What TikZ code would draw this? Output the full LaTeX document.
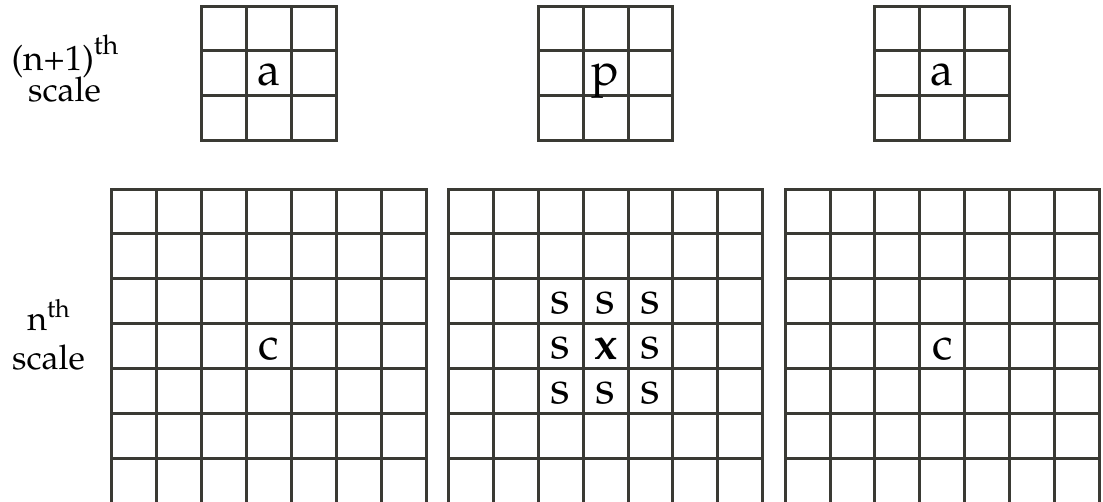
\documentclass[tikz,border=0pt]{standalone}
\usepackage[T1]{fontenc}
\usepackage{mathpazo}
\usepackage{tikz}
\usetikzlibrary{positioning}
\definecolor{gridgray}{RGB}{58,58,52}
\newcommand{\thsup}[2]{\raisebox{#1}{\fontsize{#2}{#2}\selectfont th}}
\newcommand{\cs}{44.9}

\begin{document}
\begin{tikzpicture}[x=1pt, y=-1pt,
    every node/.style={inner sep=0pt},
    gridline/.style={draw=gridgray, line width=3pt, line cap=rect},
    cellmark/.style={anchor=base, font=\fontsize{46}{50}\selectfont},
    scalelabel/.style={anchor=base, font=\fontsize{34}{40}\selectfont}]
  \useasboundingbox (0,0) rectangle (1103,501);
  \clip (0,0) rectangle (1103,501);
  % (n+1)th scale
  \foreach \gx in {111.7, 448.4, 785.1} {
    \foreach \i in {0,...,3} {
      \draw[gridline] (\gx+2*\cs+\i*\cs, 6) -- (\gx+2*\cs+\i*\cs, 6+3*\cs);
      \draw[gridline] (\gx+2*\cs, 6+\i*\cs) -- (\gx+5*\cs, 6+\i*\cs);
    }
  }
  % nth scale
  \foreach \gx in {111.7, 448.4, 785.1} {
    \foreach \i in {0,...,7} {
      \draw[gridline] (\gx+\i*\cs, 189) -- (\gx+\i*\cs, 189+7*\cs);
      \draw[gridline] (\gx, 189+\i*\cs) -- (\gx+7*\cs, 189+\i*\cs);
    }
  }
  % labels
  \node[scalelabel, font=\fontsize{35}{40}\selectfont] (coarse) at (65,70) {(n+1)\thsup{16pt}{27}};
  \node[scalelabel] (coarsescale) at (64.5,101) {scale};
  \node[scalelabel] (fine) at (48.5,330) {n\thsup{13pt}{25}};
  \node[scalelabel] (finescale) at (48.5,369) {scale};
  % cell letters
  \node[cellmark] (aleft) at (111.7+3.5*\cs, 85) {a};
  \node[cellmark] (p) at (448.4+3.5*\cs, 85) {p};
  \node[cellmark] (aright) at (785.1+3.5*\cs, 85) {a};
  \node[cellmark] (cleft) at (111.7+3.5*\cs, 189+3.5*\cs+13) {c};
  \node[cellmark] (cright) at (785.1+3.5*\cs, 189+3.5*\cs+13) {c};
  \node[cellmark] (x) at (448.4+3.5*\cs, 189+3.5*\cs+13) {\textbf{x}};
  \foreach \r/\c in {2/2, 2/3, 2/4, 3/2, 3/4, 4/2, 4/3, 4/4}
    \node[cellmark] (s-\r-\c) at (448.4+\c*\cs+0.5*\cs, 189+\r*\cs+0.5*\cs+12) {s};
\end{tikzpicture}
\end{document}
